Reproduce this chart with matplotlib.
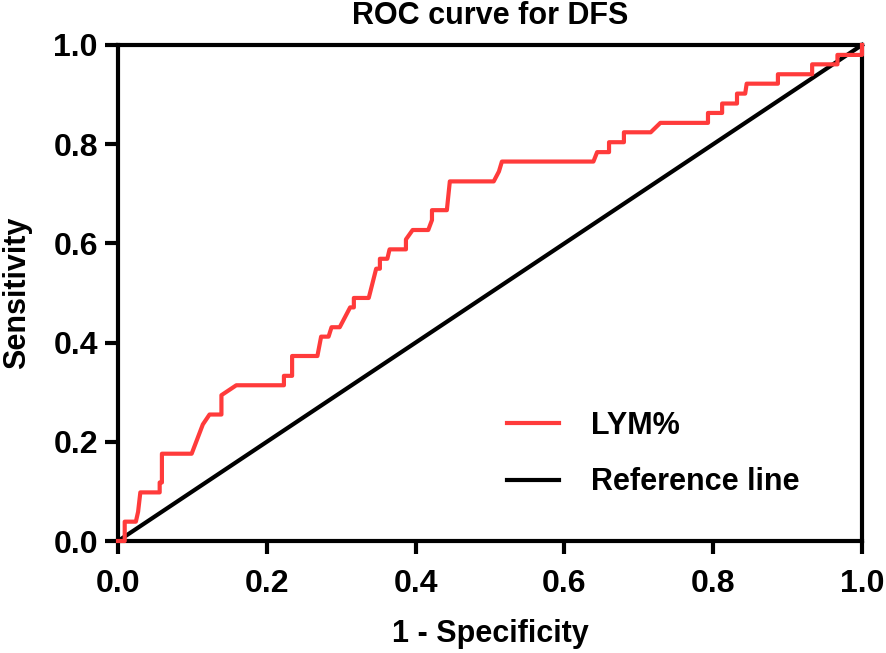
import matplotlib
matplotlib.use("Agg")
import matplotlib.pyplot as plt

plt.rcParams['font.family'] = ['Liberation Sans', 'DejaVu Sans']
plt.rcParams['font.weight'] = 'bold'

# ROC curve points (1 - specificity, sensitivity)
fpr = [0.0, 0.009, 0.009, 0.024, 0.027, 0.030, 0.056, 0.056, 0.059, 0.059,
       0.099, 0.114, 0.123, 0.139, 0.139, 0.159, 0.223, 0.223, 0.234, 0.234,
       0.268, 0.273, 0.283, 0.287, 0.298, 0.312, 0.317, 0.317, 0.337, 0.347,
       0.352, 0.352, 0.362, 0.365, 0.387, 0.387, 0.396, 0.417, 0.422, 0.422,
       0.442, 0.446, 0.505, 0.512, 0.516, 0.639, 0.644, 0.660, 0.660, 0.680,
       0.680, 0.716, 0.729, 0.793, 0.793, 0.812, 0.812, 0.832, 0.832, 0.843,
       0.845, 0.887, 0.887, 0.933, 0.933, 0.967, 0.967, 1.0, 1.0]
tpr = [0.0, 0.0, 0.039, 0.039, 0.059, 0.098, 0.098, 0.118, 0.118, 0.176,
       0.176, 0.235, 0.255, 0.255, 0.294, 0.314, 0.314, 0.333, 0.333, 0.373,
       0.373, 0.412, 0.412, 0.431, 0.431, 0.471, 0.471, 0.490, 0.490, 0.549,
       0.549, 0.569, 0.569, 0.588, 0.588, 0.608, 0.627, 0.627, 0.647, 0.667,
       0.667, 0.725, 0.725, 0.745, 0.765, 0.765, 0.784, 0.784, 0.804, 0.804,
       0.824, 0.824, 0.843, 0.843, 0.863, 0.863, 0.882, 0.882, 0.902, 0.902,
       0.922, 0.922, 0.941, 0.941, 0.961, 0.961, 0.980, 0.980, 1.0]
ref_line = [0.0, 1.0]
ticks = [0.0, 0.2, 0.4, 0.6, 0.8, 1.0]
tick_labels = ['0.0', '0.2', '0.4', '0.6', '0.8', '1.0']

fig = plt.figure(figsize=(8.86, 6.53), dpi=100)
ax = fig.add_axes([0.1332, 0.1715, 0.8397, 0.7596])

ax.plot(ref_line, ref_line, color='black', lw=3, label='Reference line', clip_on=False, zorder=2)
ax.plot(fpr, tpr, color='#ff3b3b', lw=3, label='LYM%', clip_on=False, zorder=3)

ax.set_xlim(0, 1)
ax.set_ylim(0, 1)
ax.set_xticks(ticks)
ax.set_yticks(ticks)
ax.set_xticklabels(tick_labels)
ax.set_yticklabels(tick_labels)
for s in ax.spines.values():
    s.set_linewidth(3)
ax.tick_params(direction='out', length=9.5, width=3, labelsize=23)
ax.tick_params(axis='x', pad=11)
ax.tick_params(axis='y', pad=5)

ax.set_title('ROC curve for DFS', fontsize=22, fontweight='bold', pad=15)
ax.set_xlabel('1 - Specificity', fontsize=22, fontweight='bold', labelpad=14)
ax.set_ylabel('Sensitivity', fontsize=22, fontweight='bold', labelpad=15)

handles, labels = ax.get_legend_handles_labels()
ax.legend(handles[::-1], labels[::-1], loc='lower right', bbox_to_anchor=(0.936, 0.057),
          frameon=False, fontsize=22, handlelength=1.7, handletextpad=1.05,
          labelspacing=0.87, borderpad=0)

fig.savefig('out.png', dpi=100)
